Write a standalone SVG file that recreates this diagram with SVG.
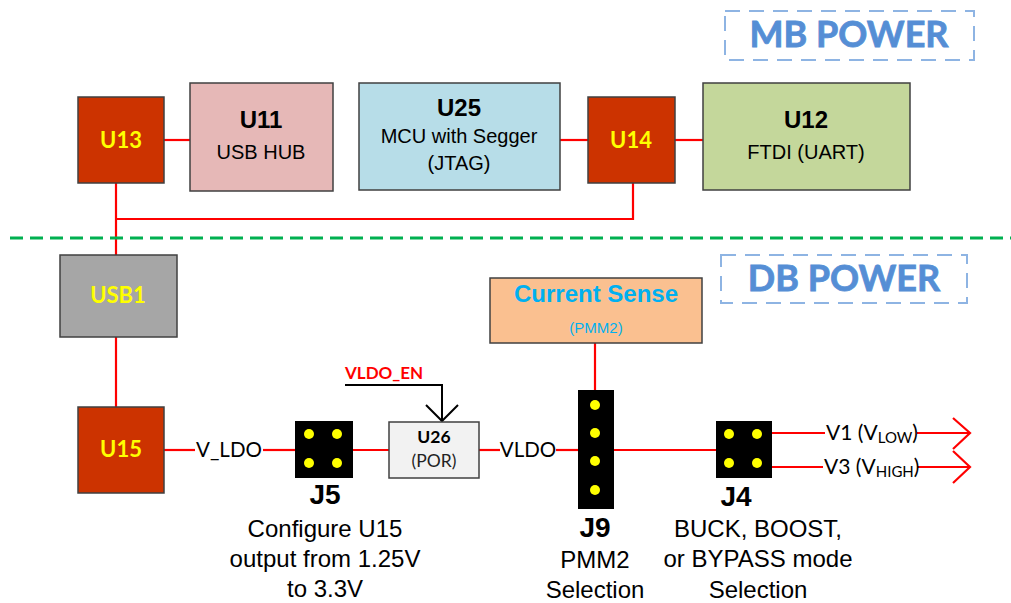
<svg xmlns="http://www.w3.org/2000/svg" width="1011" height="603" viewBox="0 0 1011 603">
<style>
.box{stroke:#404040;stroke-width:1.5}
.red{fill:#CC3300}
.w{stroke:#FF0000;stroke-width:2.2;fill:none}
.arial{font-family:"Liberation Sans",Arial,sans-serif}
.cal{font-family:Lato,"Open Sans",sans-serif}
.b{font-weight:bold}
.ylw{fill:#FFFF00;font-family:Lato,"Open Sans",sans-serif;font-weight:bold;font-size:22px}
.t24b{font-family:"Liberation Sans",Arial,sans-serif;font-weight:bold;font-size:24px}
.t20{font-family:"Liberation Sans",Arial,sans-serif;font-size:20px}
.t24{font-family:"Liberation Sans",Arial,sans-serif;font-size:24px}
.jl{font-family:"Liberation Sans",Arial,sans-serif;font-weight:bold;font-size:28px}
.dot{fill:#FFFF00}
.title{font-family:Lato,"Open Sans",sans-serif;font-weight:bold;font-size:36px;fill:#558ED5;stroke:#558ED5;stroke-width:0.8}
.tbox{fill:none;stroke:#8EB4E3;stroke-width:2;stroke-dasharray:15 9}
</style>
<rect width="1011" height="603" fill="#FFFFFF"/>

<g id="connectors">
<line class="w" x1="164" y1="140" x2="190" y2="140"/>
<line class="w" x1="560" y1="140" x2="588" y2="140"/>
<line class="w" x1="675" y1="140" x2="703" y2="140"/>
<polyline class="w" points="116,183 116,255"/>
<polyline class="w" points="116,219 633,219 633,183"/>
<line class="w" x1="116" y1="337" x2="116" y2="407"/>
<line class="w" x1="164" y1="450" x2="195" y2="450"/>
<line class="w" x1="263" y1="450" x2="295" y2="450"/>
<line class="w" x1="353" y1="450" x2="389" y2="450"/>
<line class="w" x1="479" y1="450" x2="500" y2="450"/>
<line class="w" x1="556" y1="450" x2="578" y2="450"/>
<line class="w" x1="595" y1="343" x2="595" y2="390"/>
<line class="w" x1="614" y1="450" x2="716" y2="450"/>
<line class="w" x1="772" y1="433" x2="825" y2="433"/>
<line class="w" x1="917" y1="433" x2="970" y2="433"/>
<polyline class="w" points="953,418 970,433 953,449"/>
<line class="w" x1="772" y1="467" x2="823" y2="467"/>
<line class="w" x1="917" y1="467" x2="970" y2="467"/>
<polyline class="w" points="953,451 970,467 953,483"/>
<polyline points="345,385 442,385 442,421" fill="none" stroke="#000" stroke-width="2"/>
<polyline points="426,405 442,421 458,405" fill="none" stroke="#000" stroke-width="2"/>
<text x="345" y="379" class="cal b" font-size="17" fill="#FF0000">VLDO_EN</text>
<text x="229" y="457" class="cal" font-size="20.5" text-anchor="middle" fill="#000">V_LDO</text>
<text x="528" y="457" class="cal" font-size="20.5" text-anchor="middle" fill="#000">VLDO</text>
<text x="826" y="440" class="cal" font-size="21" fill="#000">V1 (V<tspan font-size="15" dy="3">LOW</tspan><tspan dy="-3">)</tspan></text>
<text x="824" y="474" class="cal" font-size="21" fill="#000">V3 (V<tspan font-size="15" dy="3">HIGH</tspan><tspan dy="-3">)</tspan></text>
</g>

<line x1="10" y1="238" x2="1011" y2="238" stroke="#00B050" stroke-width="3" stroke-dasharray="13 7"/>

<g id="mb-power">
<rect class="tbox" x="725" y="11" width="249" height="49"/>
<text x="849" y="47" class="title" text-anchor="middle">MB POWER</text>
</g>
<g id="db-power">
<rect class="tbox" x="721" y="255" width="246" height="48"/>
<text x="844" y="291" class="title" text-anchor="middle">DB POWER</text>
</g>

<g id="U13">
<rect class="box red" x="78" y="97" width="86" height="86"/>
<text x="121" y="148" class="ylw" text-anchor="middle">U13</text>
</g>
<g id="U11">
<rect class="box" x="190" y="83" width="143" height="108" fill="#E6B8B7"/>
<text x="261" y="128" class="t24b" text-anchor="middle">U11</text>
<text x="261" y="159" class="t20" text-anchor="middle">USB HUB</text>
</g>
<g id="U25">
<rect class="box" x="359" y="83" width="201" height="107" fill="#B7DDE8"/>
<text x="459" y="116" class="t24b" text-anchor="middle">U25</text>
<text x="459" y="143" class="t20" text-anchor="middle">MCU with Segger</text>
<text x="459" y="170" class="t20" text-anchor="middle">(JTAG)</text>
</g>
<g id="U14">
<rect class="box red" x="588" y="97" width="87" height="86"/>
<text x="631" y="148" class="ylw" text-anchor="middle">U14</text>
</g>
<g id="U12">
<rect class="box" x="703" y="83" width="207" height="107" fill="#C4D79B"/>
<text x="806" y="128" class="t24b" text-anchor="middle">U12</text>
<text x="806" y="159" class="t20" text-anchor="middle">FTDI (UART)</text>
</g>
<g id="USB1">
<rect class="box" x="60" y="255" width="117" height="82" fill="#A6A6A6"/>
<text x="118" y="303" class="ylw" text-anchor="middle">USB1</text>
</g>
<g id="U15">
<rect class="box red" x="78" y="407" width="86" height="86"/>
<text x="121" y="457" class="ylw" text-anchor="middle">U15</text>
</g>
<g id="J5">
<rect x="295" y="421" width="58" height="57" fill="#000"/>
<circle class="dot" cx="309" cy="434" r="5"/>
<circle class="dot" cx="337" cy="434" r="5"/>
<circle class="dot" cx="309" cy="463" r="5"/>
<circle class="dot" cx="337" cy="463" r="5"/>
<text x="325" y="504" class="jl" text-anchor="middle">J5</text>
<text x="325" y="537" class="t24" text-anchor="middle">Configure U15</text>
<text x="325" y="567" class="t24" text-anchor="middle" font-size="23.5">output from 1.25V</text>
<text x="325" y="597" class="t24" text-anchor="middle">to 3.3V</text>
</g>
<g id="U26">
<rect class="box" x="389" y="422" width="90" height="56" fill="#F2F2F2"/>
<text x="434" y="443" class="cal b" font-size="17.5" text-anchor="middle">U26</text>
<text x="434" y="467" class="cal" font-size="17.5" text-anchor="middle" fill="#222">(POR)</text>
</g>
<g id="CurrentSense">
<rect class="box" x="490" y="278" width="212" height="65" fill="#FAC090"/>
<text x="596" y="302" class="arial b" font-size="24" text-anchor="middle" fill="#00B0F0">Current Sense</text>
<text x="596" y="333" class="arial" font-size="15" text-anchor="middle" fill="#00B0F0">(PMM2)</text>
</g>
<g id="J9">
<rect x="578" y="390" width="36" height="119" fill="#000"/>
<circle class="dot" cx="595" cy="405" r="5"/>
<circle class="dot" cx="595" cy="433" r="5"/>
<circle class="dot" cx="595" cy="461" r="5"/>
<circle class="dot" cx="595" cy="490" r="5"/>
<text x="595" y="537" class="jl" text-anchor="middle">J9</text>
<text x="595" y="568" class="t24" text-anchor="middle">PMM2</text>
<text x="595" y="598" class="t24" text-anchor="middle">Selection</text>
</g>
<g id="J4">
<rect x="716" y="421" width="56" height="57" fill="#000"/>
<circle class="dot" cx="729" cy="434" r="5"/>
<circle class="dot" cx="757" cy="434" r="5"/>
<circle class="dot" cx="729" cy="463" r="5"/>
<circle class="dot" cx="757" cy="463" r="5"/>
<text x="736" y="506" class="jl" text-anchor="middle">J4</text>
<text x="758" y="537" class="t24" text-anchor="middle">BUCK, BOOST,</text>
<text x="758" y="567" class="t24" text-anchor="middle">or BYPASS mode</text>
<text x="758" y="598" class="t24" text-anchor="middle">Selection</text>
</g>
</svg>
